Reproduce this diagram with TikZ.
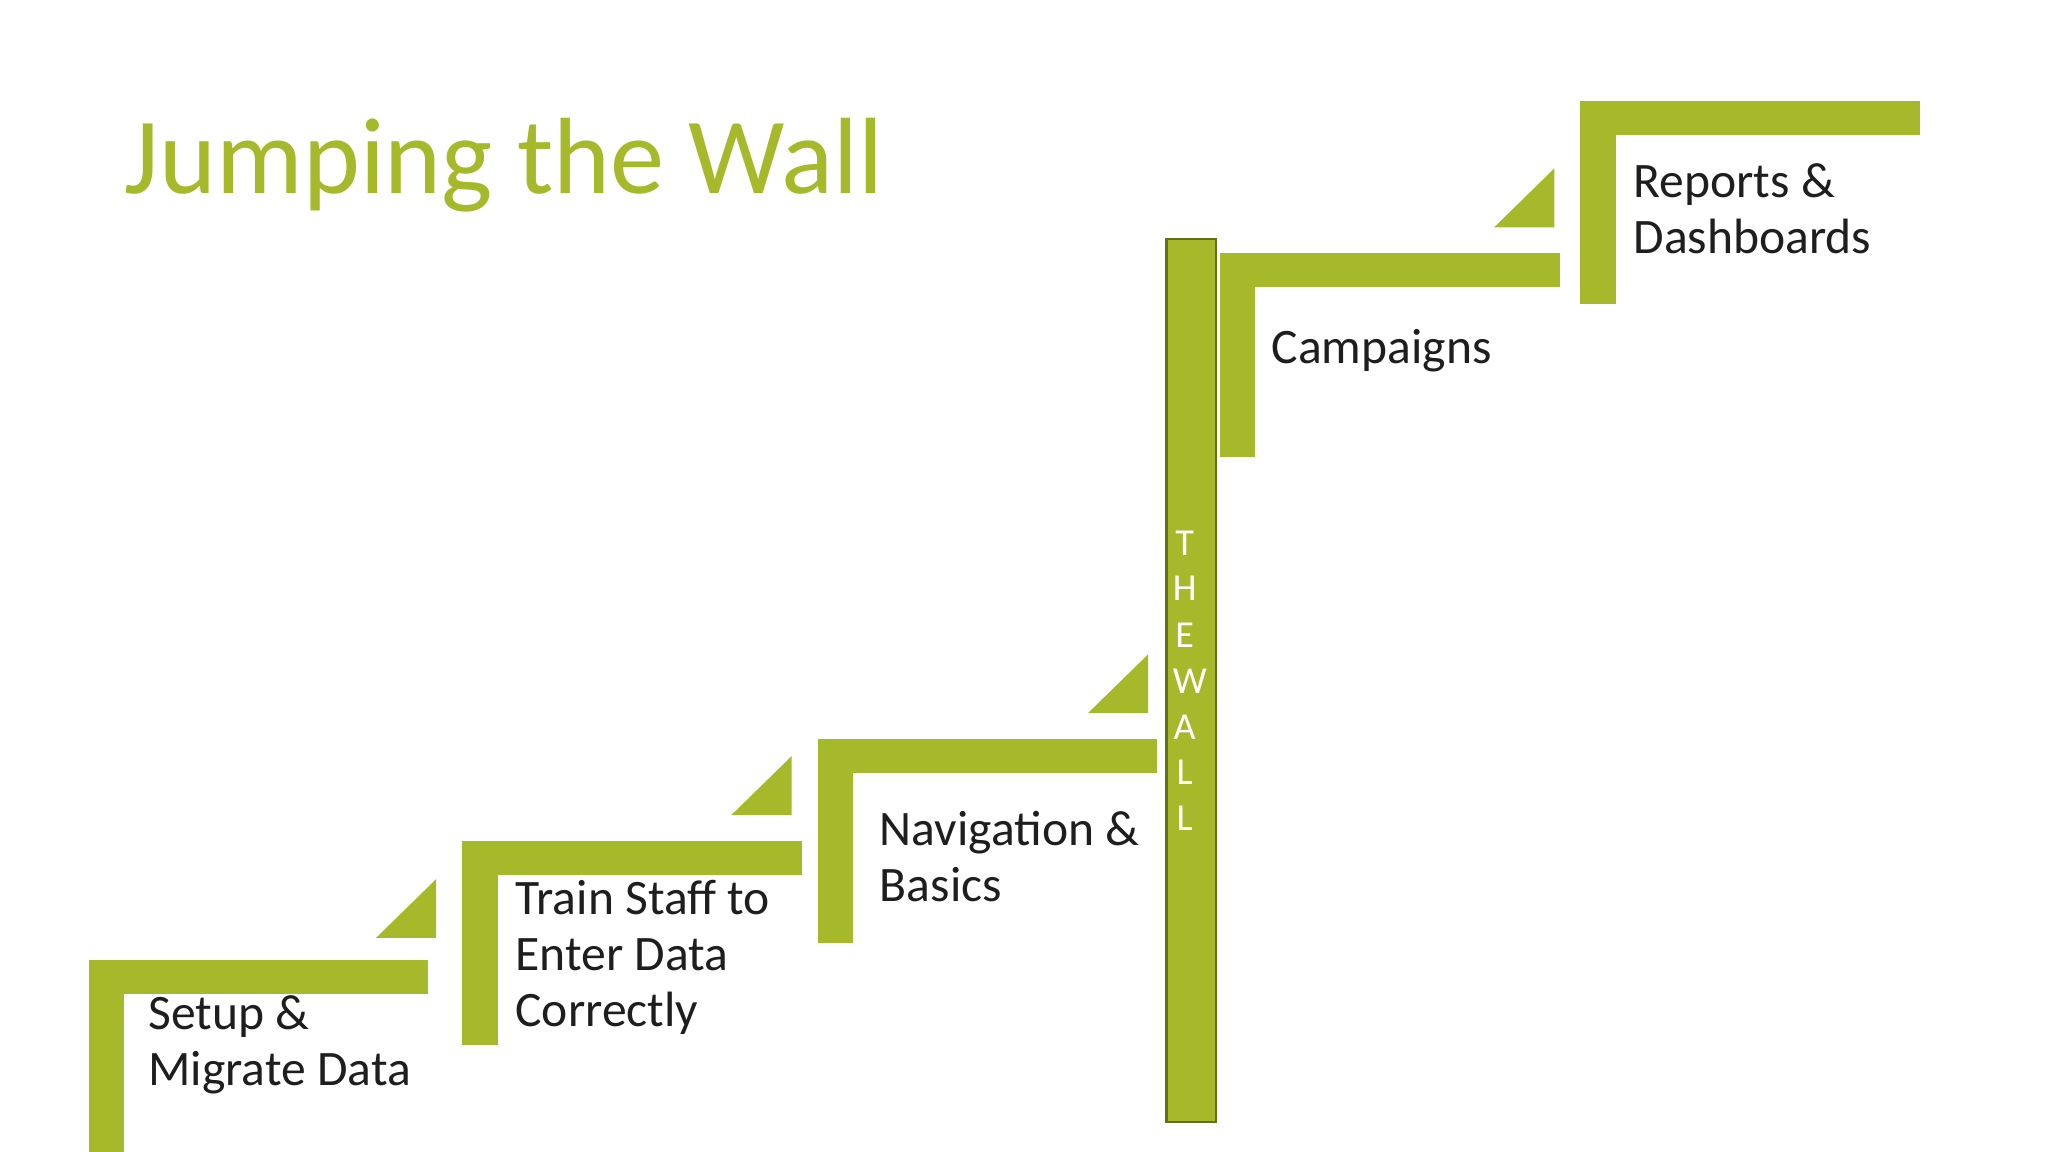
\documentclass[tikz,border=0pt]{standalone}
\usepackage{fontspec}
\setmainfont{Carlito}
\definecolor{lime}{HTML}{A6B92B}
\definecolor{txt}{HTML}{1E1E1E}
\tikzset{bar/.style={fill=lime,draw=none},
 lbl/.style={anchor=base west,align=left,inner sep=0pt,text=txt,font=\fontsize{10.8pt}{12.2pt}\selectfont},
 wl/.style={anchor=base,inner sep=0pt,text=white,font=\fontsize{8.3pt}{10pt}\selectfont}}
\begin{document}
\begin{tikzpicture}[x=0.01cm,y=-0.01cm]
\useasboundingbox[fill=white] (0,0) rectangle (1568,882);
\node[anchor=base west,inner sep=0pt,text=lime,font=\fontsize{23.6pt}{28pt}\selectfont] (title) at (95,148) {Jumping the Wall};
% steps
\foreach \x/\y/\h in {68/735/147, 354/644/156, 626/566/156, 934/194/156, 1210/77/156}{
  \fill[lime] (\x,\y) rectangle ++(260,26);
  \fill[lime] (\x,\y) rectangle ++(27,\h);
}
\foreach \x/\y in {334/718, 606/624, 879/546, 1190/174}{
  \fill[lime] (\x-46,\y) -- (\x,\y-45) -- (\x,\y) -- cycle;
}
% wall
\filldraw[fill=lime,draw=lime!60!black,line width=0.5pt] (893,183) rectangle (931,859);
\foreach \c/\y/\xx [count=\i] in {T/425/907,H/460/907,E/496/907,W/531/911,A/566/907,L/601/907,L/636/907}{
  \node[wl] (w\i) at (\xx,\y) {\c};
}
\node[lbl] (s1) at (113,831) {Setup \&\\Migrate Data};
\node[lbl] (s2) at (394,786) {Train Staff to\\Enter Data\\Correctly};
\node[lbl] (s3) at (673,690) {Navigation \&\\Basics};
\node[lbl] (s4) at (973,278) {Campaigns};
\node[lbl] (s5) at (1250,194) {Reports \&\\Dashboards};
\end{tikzpicture}
\end{document}
